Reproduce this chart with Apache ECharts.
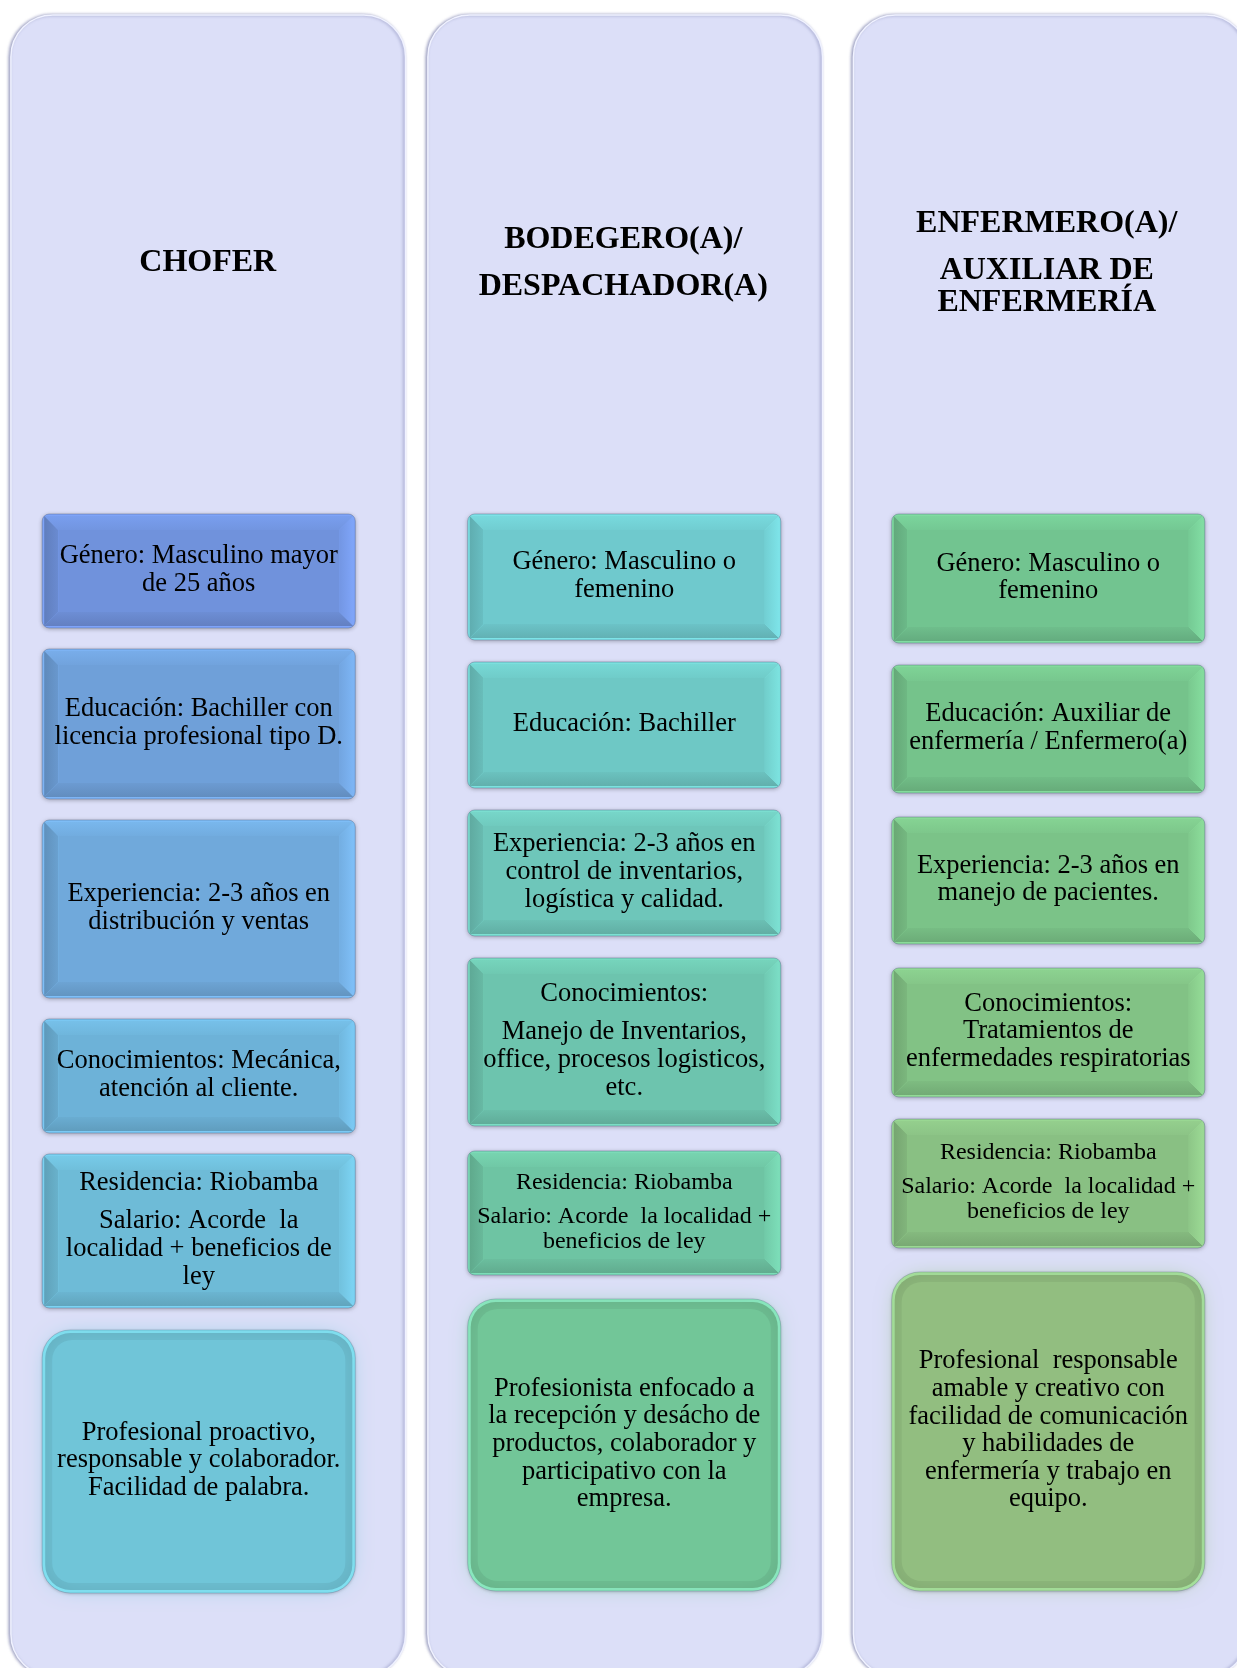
<!DOCTYPE html>
<html>
<head>
<meta charset="utf-8">
<script src="https://cdn.jsdelivr.net/npm/echarts@6/dist/echarts.min.js"></script>
<style>
  html, body { margin: 0; padding: 0; background: #ffffff; overflow: hidden; }
  #chart { width: 1247px; height: 1668px; }
</style>
</head>
<body>
<div id="chart"></div>
<script>
// ---------- DATA ----------
const puestos = ['CHOFER', 'BODEGERO(A)/DESPACHADOR(A)', 'ENFERMERO(A)/AUXILIAR DE ENFERMERÍA'];

// Header paragraphs (lines separated by \n inside a paragraph)
const tituloChofer = ['CHOFER'];
const tituloBodeguero = ['BODEGERO(A)/', 'DESPACHADOR(A)'];
const tituloEnfermero = ['ENFERMERO(A)/', 'AUXILIAR DE\nENFERMERÍA'];

// Column extent (vertical axis units)
const carrilInicio = [15, 15, 15];
const carrilFin = [1676, 1676, 1676];

// Box extents (vertical axis units)
const choferInicio = [514, 649, 820, 1019, 1154, 1330];
const choferFin = [628, 799, 998, 1133, 1308, 1593];
const bodegueroInicio = [514, 662, 810, 958, 1151, 1299];
const bodegueroFin = [640, 788, 936, 1126, 1275, 1591];
const enfermeroInicio = [514, 665, 817, 968, 1119, 1272];
const enfermeroFin = [643, 793, 944, 1097, 1248, 1591];

// Box texts (paragraphs; \n = line break inside a paragraph)
const choferTextos = [
  ['Género: Masculino mayor\nde 25 años'],
  ['Educación: Bachiller con\nlicencia profesional tipo D.'],
  ['Experiencia: 2-3 años en\ndistribución y ventas'],
  ['Conocimientos: Mecánica,\natención al cliente.'],
  ['Residencia: Riobamba', 'Salario: Acorde  la\nlocalidad + beneficios de\nley'],
  ['Profesional proactivo,\nresponsable y colaborador.\nFacilidad de palabra.']
];
const bodegueroTextos = [
  ['Género: Masculino o\nfemenino'],
  ['Educación: Bachiller'],
  ['Experiencia: 2-3 años en\ncontrol de inventarios,\nlogística y calidad.'],
  ['Conocimientos:', 'Manejo de Inventarios,\noffice, procesos logisticos,\netc.'],
  ['Residencia: Riobamba', 'Salario: Acorde  la localidad +\nbeneficios de ley'],
  ['Profesionista enfocado a\nla recepción y desácho de\nproductos, colaborador y\nparticipativo con la\nempresa.']
];
const enfermeroTextos = [
  ['Género: Masculino o\nfemenino'],
  ['Educación: Auxiliar de\nenfermería / Enfermero(a)'],
  ['Experiencia: 2-3 años en\nmanejo de pacientes.'],
  ['Conocimientos:\nTratamientos de\nenfermedades respiratorias'],
  ['Residencia: Riobamba', 'Salario: Acorde  la localidad +\nbeneficios de ley'],
  ['Profesional  responsable\namable y creativo con\nfacilidad de comunicación\ny habilidades de\nenfermería y trabajo en\nequipo.']
];

// ---------- STYLE / LAYOUT ----------
const FONT = '"Liberation Serif", "Times New Roman", serif';
const colorCaja = [
  ['#7092DC', '#6FA0D9', '#70A9DB', '#6DB2D8', '#6EBBD7', '#70C5D8'],
  ['#6FC9CD', '#6EC8C5', '#6EC6BA', '#6DC4AE', '#6EC4A3', '#72C698'],
  ['#72C490', '#75C38B', '#7BC388', '#82C285', '#89C083', '#92BE80']
];
const colorBorde = ['#84E6F6', '#8EEEC6', '#A8E6A0'];
const tamanoTexto = [
  [26.5, 26.5, 26.5, 26.5, 26.5, 26.5],
  [26.5, 26.5, 26.5, 26.5, 24, 26.5],
  [26.5, 26.5, 26.5, 26.5, 24, 26.5]
];
const desplazCarril = [0.5, 2, 12];
const desplazCaja = [-9, 1, 9.5];
const desplazTitulo = [0, 0, 8];

const titulos = [tituloChofer, tituloBodeguero, tituloEnfermero];
const inicios = [choferInicio, bodegueroInicio, enfermeroInicio];
const fines = [choferFin, bodegueroFin, enfermeroFin];
const textos = [choferTextos, bodegueroTextos, enfermeroTextos];

function shade(hex, f) {
  const n = parseInt(hex.slice(1), 16);
  const r = Math.min(255, Math.round(((n >> 16) & 255) * f));
  const g = Math.min(255, Math.round(((n >> 8) & 255) * f));
  const b = Math.min(255, Math.round((n & 255) * f));
  return 'rgb(' + r + ',' + g + ',' + b + ')';
}

function layoutLines(paragraphs, cy, lh, gap) {
  const lines = [];
  let y = 0;
  paragraphs.forEach(function (p, pi) {
    if (pi > 0) y += gap;
    p.split('\n').forEach(function (t, li) {
      if (pi > 0 || li > 0) y += lh;
      lines.push({ t: t, y: y });
    });
  });
  const off = cy - y / 2;
  lines.forEach(function (l) { l.y += off; });
  return lines;
}

// Build series data
const carrilData = puestos.map(function (p, i) { return [i, carrilInicio[i], carrilFin[i]]; });
const cajaData = [];
for (let c = 0; c < 3; c++) {
  for (let k = 0; k < inicios[c].length; k++) {
    cajaData.push([c, inicios[c][k], fines[c][k], k]);
  }
}

function renderCarril(params, api) {
  const col = api.value(0);
  const p0 = api.coord([col, api.value(1)]);
  const p1 = api.coord([col, api.value(2)]);
  const band = api.size([1, 0])[0];
  const w = band * 0.95;
  const x0 = p0[0] + desplazCarril[col] - w / 2;
  const children = [{
    type: 'rect',
    shape: { x: x0, y: p0[1], width: w, height: p1[1] - p0[1], r: 42 },
    style: {
      fill: '#DCDFF8',
      stroke: 'rgba(240,242,255,1)',
      lineWidth: 1.5,
      shadowBlur: 3,
      shadowOffsetX: -1.5,
      shadowOffsetY: 0,
      shadowColor: 'rgba(110,115,165,0.65)'
    }
  }];
  const lines = layoutLines(titulos[col], api.coord([col, 263])[1], 32, 14.5);
  lines.forEach(function (l) {
    children.push({
      type: 'text',
      style: {
        text: l.t, x: p0[0] + desplazTitulo[col], y: l.y,
        fill: '#000', font: 'bold 32px ' + FONT,
        align: 'center', verticalAlign: 'middle',
        textAlign: 'center', textVerticalAlign: 'middle'
      }
    });
  });
  return { type: 'group', children: children };
}

function renderCaja(params, api) {
  const col = api.value(0);
  const k = api.value(3);
  const pTop = api.coord([col, api.value(1)]);
  const pBot = api.coord([col, api.value(2)]);
  const band = api.size([1, 0])[0];
  const w = band * 0.7535;
  const cx = pTop[0] + desplazCaja[col];
  const x0 = cx - w / 2, x1 = cx + w / 2;
  const y0 = pTop[1], y1 = pBot[1];
  const h = y1 - y0;
  const face = colorCaja[col][k];
  const children = [];
  const ultimo = k === inicios[col].length - 1;

  if (!ultimo) {
    children.push({
      type: 'rect',
      shape: { x: x0, y: y0, width: w, height: h, r: 7 },
      style: {
        fill: shade(face, 1.14), stroke: 'rgba(70,90,120,0.35)', lineWidth: 1,
        shadowBlur: 4, shadowOffsetY: 1, shadowColor: 'rgba(0,0,0,0.28)'
      }
    });
    const a0 = x0 + 2, b0 = y0 + 2, a1 = x1 - 2, b1 = y1 - 2, bv = 14;
    children.push({ type: 'polygon', shape: { points: [[a0, b0], [a1, b0], [a1 - bv, b0 + bv], [a0 + bv, b0 + bv]] },
      style: { fill: { type: 'linear', x: 0, y: 0, x2: 0, y2: 1, colorStops: [{ offset: 0, color: shade(face, 1.08) }, { offset: 1, color: shade(face, 1.02) }] } } });
    children.push({ type: 'polygon', shape: { points: [[a0, b1], [a1, b1], [a1 - bv, b1 - bv], [a0 + bv, b1 - bv]] },
      style: { fill: { type: 'linear', x: 0, y: 0, x2: 0, y2: 1, colorStops: [{ offset: 0, color: shade(face, 0.97) }, { offset: 1, color: shade(face, 0.88) }] } } });
    children.push({ type: 'polygon', shape: { points: [[a0, b0], [a0 + bv, b0 + bv], [a0 + bv, b1 - bv], [a0, b1]] },
      style: { fill: { type: 'linear', x: 0, y: 0, x2: 1, y2: 0, colorStops: [{ offset: 0, color: shade(face, 0.86) }, { offset: 1, color: shade(face, 0.95) }] } } });
    children.push({ type: 'polygon', shape: { points: [[a1, b0], [a1, b1], [a1 - bv, b1 - bv], [a1 - bv, b0 + bv]] },
      style: { fill: { type: 'linear', x: 0, y: 0, x2: 1, y2: 0, colorStops: [{ offset: 0, color: shade(face, 1.03) }, { offset: 1, color: shade(face, 1.13) }] } } });
    children.push({ type: 'rect', shape: { x: a0 + bv, y: b0 + bv, width: a1 - a0 - 2 * bv, height: b1 - b0 - 2 * bv },
      style: { fill: face } });
  } else {
    children.push({
      type: 'rect',
      shape: { x: x0, y: y0, width: w, height: h, r: 28 },
      style: {
        fill: colorBorde[col], stroke: 'rgba(70,90,120,0.3)', lineWidth: 1,
        shadowBlur: 3, shadowOffsetY: 1, shadowColor: 'rgba(0,0,0,0.2)'
      }
    });
    children.push({
      type: 'rect',
      shape: { x: x0 + 3, y: y0 + 3, width: w - 6, height: h - 6, r: 25 },
      style: { fill: shade(face, 0.9) }
    });
    children.push({
      type: 'rect',
      shape: { x: x0 + 10, y: y0 + 10, width: w - 20, height: h - 20, r: 20 },
      style: { fill: face, shadowBlur: 24, shadowColor: face }
    });
  }

  const fs = tamanoTexto[col][k];
  const lh = fs < 25 ? 25 : 27.6;
  const gap = fs < 25 ? 9 : 10.5;
  const lines = layoutLines(textos[col][k], (y0 + y1) / 2 - 1, lh, gap);
  lines.forEach(function (l) {
    children.push({
      type: 'text',
      style: {
        text: l.t, x: cx, y: l.y,
        fill: '#000', font: fs + 'px ' + FONT,
        align: 'center', verticalAlign: 'middle',
        textAlign: 'center', textVerticalAlign: 'middle'
      }
    });
  });
  return { type: 'group', children: children };
}

const chart = echarts.init(document.getElementById('chart'), null, { renderer: 'canvas' });
chart.setOption({
  animation: false,
  backgroundColor: '#ffffff',
  grid: { left: 0, top: 0, bottom: 0, right: 0.5, containLabel: false },
  xAxis: { type: 'category', data: puestos, show: false },
  yAxis: { type: 'value', min: 0, max: 1668, inverse: true, show: false },
  series: [
    { type: 'custom', renderItem: renderCarril, data: carrilData, clip: false, silent: true, z: 1 },
    { type: 'custom', renderItem: renderCaja, data: cajaData, clip: false, silent: true, z: 2 }
  ]
});
</script>
</body>
</html>
